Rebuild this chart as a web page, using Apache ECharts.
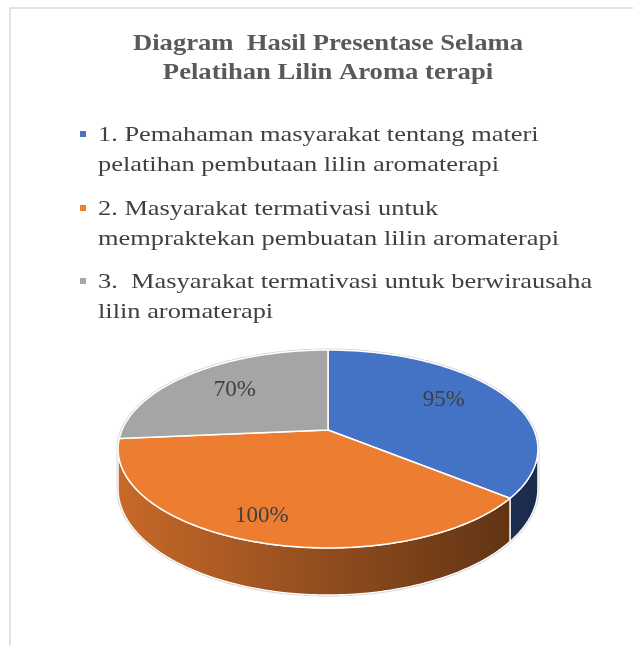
<!DOCTYPE html>
<html>
<head>
<meta charset="utf-8">
<script src="https://cdn.jsdelivr.net/npm/echarts@6/dist/echarts.min.js"></script>
<style>
  html, body { margin: 0; padding: 0; background: #fff; }
  #chart { width: 633px; height: 646px; }
</style>
</head>
<body>
<div id="chart"></div>
<script>
// ---- data ----
const titleLines = ['Diagram  Hasil Presentase Selama', 'Pelatihan Lilin Aroma terapi'];
const categories = [
  '1. Pemahaman masyarakat tentang materi\npelatihan pembutaan lilin aromaterapi',
  '2. Masyarakat termativasi untuk\nmempraktekan pembuatan lilin aromaterapi',
  '3.  Masyarakat termativasi untuk berwirausaha\nlilin aromaterapi'
];
const values = [95, 100, 70];
const colors = ['#4472C4', '#ED7D31', '#A5A5A5'];

// ---- layout / style ----
const SERIF = '"Liberation Serif", "Times New Roman", serif';
const CX = 328, APEX_Y = 430, PA = 12.8, PC = -0.1919, PK = 206, DEPTH = 38;
const labelRadius = [0.65, 0.81, 0.65];
const labelNudge = [[1, -5], [-9, -1], [-2, -1]];

function proj(r, t) {
  const u = r * Math.sin(t), v = -r * Math.cos(t);
  const d = 1 + PC * v;
  return [CX + PK * u / d, (PA * v + APEX_Y) / d, DEPTH / d];
}
function shade(hex, f) {
  const n = parseInt(hex.slice(1), 16);
  const r = Math.round(((n >> 16) & 255) * f), g = Math.round(((n >> 8) & 255) * f), b = Math.round((n & 255) * f);
  return 'rgb(' + r + ',' + g + ',' + b + ')';
}
const T_RIGHT = Math.acos(PC);            // widest point on the right
const T_LEFT = 2 * Math.PI - T_RIGHT;     // widest point on the left

function rimPoints(t0, t1, bottom) {
  const pts = [];
  const n = Math.max(2, Math.ceil(Math.abs(t1 - t0) / (Math.PI / 180)));
  for (let k = 0; k <= n; k++) {
    const t = t0 + (t1 - t0) * k / n;
    const p = proj(1, t);
    pts.push([p[0], bottom ? p[1] + p[2] : p[1]]);
  }
  return pts;
}

function renderItem(params, api) {
  const i = params.dataIndex;
  const total = values.reduce((a, b) => a + b, 0);
  let before = 0;
  for (let k = 0; k < i; k++) before += values[k];
  const val = api.value(0);
  const t0 = before / total * 2 * Math.PI;
  const t1 = (before + val) / total * 2 * Math.PI;
  const color = colors[i];
  const children = [];

  if (i === 0) {
    const sil = rimPoints(T_LEFT, T_RIGHT + 2 * Math.PI, false)
      .concat(rimPoints(T_RIGHT, T_LEFT, true));
    children.push({
      type: 'polygon', z2: -1,
      shape: { points: sil },
      style: { fill: '#fff', stroke: '#d4d4d4', lineWidth: 3 }
    });
  }

  // outer wall (only the front-facing part)
  const w0 = Math.max(t0, T_RIGHT), w1 = Math.min(t1, T_LEFT);
  if (w1 > w0) {
    const pts = rimPoints(w0, w1, false).concat(rimPoints(w1, w0, true));
    children.push({
      type: 'polygon', z2: 1,
      shape: { points: pts },
      style: {
        fill: {
          type: 'linear', x: 118, y: 0, x2: 538, y2: 0, global: true,
          colorStops: [
            { offset: 0, color: shade(color, 0.84) },
            { offset: 1, color: shade(color, 0.38) }
          ]
        },
        stroke: '#ffffff', lineWidth: 1.3
      }
    });
  }

  // top face
  const top = [[CX, APEX_Y]].concat(rimPoints(t0, t1, false));
  children.push({
    type: 'polygon', z2: 5,
    shape: { points: top },
    style: { fill: color, stroke: '#ffffff', lineWidth: 1.5, lineJoin: 'round' }
  });

  // label
  const tm = (t0 + t1) / 2;
  const lp = proj(labelRadius[i], tm);
  children.push({
    type: 'text', z2: 10,
    x: lp[0] + labelNudge[i][0], y: lp[1] + labelNudge[i][1],
    style: {
      text: val + '%', fill: '#404040',
      font: '23px ' + SERIF, align: 'center', verticalAlign: 'middle'
    }
  });

  return { type: 'group', children: children };
}

// legend graphics
const legendGraphics = [];
const legendTop = [120, 194, 267];
categories.forEach((c, i) => {
  legendGraphics.push({
    type: 'rect', x: 80, y: legendTop[i] + 11,
    shape: { width: 6, height: 6 },
    style: { fill: colors[i] }
  });
  legendGraphics.push({
    type: 'text', x: 98, y: legendTop[i], scaleX: 1.2,
    style: { text: c, fill: '#404040', font: '22px ' + SERIF, lineHeight: 30, verticalAlign: 'top' }
  });
});

const chart = echarts.init(document.getElementById('chart'), null, { renderer: 'canvas' });
chart.setOption({
  backgroundColor: '#ffffff',
  animation: false,
  graphic: [
    {
      type: 'rect', x: 10, y: 8, silent: true,
      shape: { x: 0, y: 0, width: 660, height: 680 },
      style: { fill: 'none', stroke: '#d9d9d9', lineWidth: 1.5 }
    },
    {
      type: 'text', x: 328, y: 29, scaleX: 1.11,
      style: {
        text: titleLines.join('\n'), fill: '#595959',
        font: 'bold 24px ' + SERIF, lineHeight: 29, align: 'center', verticalAlign: 'top'
      }
    }
  ].concat(legendGraphics),
  series: [{
    type: 'custom',
    coordinateSystem: 'none',
    data: values.map((v, i) => ({ value: v, name: categories[i] })),
    renderItem: renderItem
  }]
});
</script>
</body>
</html>
